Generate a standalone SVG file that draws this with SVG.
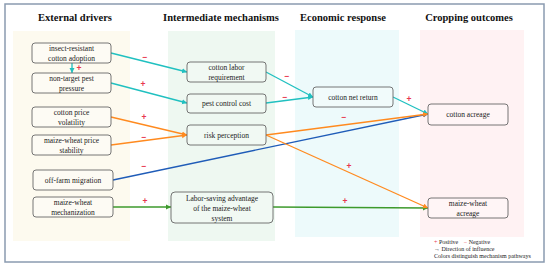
<svg xmlns="http://www.w3.org/2000/svg" width="550" height="266" viewBox="0 0 550 266">
<style>
.title{font-family:"Liberation Serif",serif;font-weight:bold;font-size:10.5px;fill:#111;text-anchor:middle}
.nt{font-family:"Liberation Serif",serif;font-size:7.5px;fill:#222;text-anchor:middle}
.box{stroke:#666;stroke-width:0.9}
.sg{font-family:"Liberation Sans",sans-serif;font-size:8.5px;font-weight:bold;fill:#e8384f;text-anchor:middle}
.lg{font-family:"Liberation Serif",serif;font-size:6px;fill:#222}
.teal{stroke:#20c0c0;stroke-width:1.3;fill:none}
.orange{stroke:#ff8a1f;stroke-width:1.3;fill:none}
.blue{stroke:#1f5cb8;stroke-width:1.3;fill:none}
.green{stroke:#3d9a2c;stroke-width:1.3;fill:none}
</style>
<defs>
<marker id="aT" markerWidth="6" markerHeight="6" refX="5" refY="3" orient="auto" markerUnits="userSpaceOnUse"><path d="M0,0.5 L5,3 L0,5.5 Z" fill="#20c0c0"/></marker>
<marker id="aO" markerWidth="6" markerHeight="6" refX="5" refY="3" orient="auto" markerUnits="userSpaceOnUse"><path d="M0,0.5 L5,3 L0,5.5 Z" fill="#ff8a1f"/></marker>
<marker id="aB" markerWidth="6" markerHeight="6" refX="5" refY="3" orient="auto" markerUnits="userSpaceOnUse"><path d="M0,0.5 L5,3 L0,5.5 Z" fill="#1f5cb8"/></marker>
<marker id="aG" markerWidth="6" markerHeight="6" refX="5" refY="3" orient="auto" markerUnits="userSpaceOnUse"><path d="M0,0.5 L5,3 L0,5.5 Z" fill="#3d9a2c"/></marker>
</defs>
<rect x="0" y="0" width="550" height="266" fill="#fff"/>
<rect x="5" y="4" width="539" height="258" fill="#fff" stroke="#8a9bb0" stroke-width="1.5"/>
<g id="panels">
<rect x="13" y="31" width="117" height="210" fill="#fdfaef"/>
<rect x="168" y="31" width="107" height="210" fill="#eef8f1"/>
<rect x="295" y="30" width="104" height="207" fill="#edfafb"/>
<rect x="420" y="30" width="104" height="207" fill="#fff2f3"/>
</g>
<g id="titles">
<text class="title" x="75" y="21">External drivers</text>
<text class="title" x="221" y="21">Intermediate mechanisms</text>
<text class="title" x="343" y="21">Economic response</text>
<text class="title" x="469" y="21">Cropping outcomes</text>
</g>
<g id="connectors">
<line class="teal" x1="111" y1="53" x2="187" y2="72" marker-end="url(#aT)"/>
<line class="teal" x1="72" y1="63" x2="72" y2="73" marker-end="url(#aT)"/>
<line class="teal" x1="111" y1="83" x2="187" y2="103" marker-end="url(#aT)"/>
<line class="orange" x1="111" y1="117" x2="187" y2="135" marker-end="url(#aO)"/>
<line class="orange" x1="111" y1="145" x2="187" y2="135" marker-end="url(#aO)"/>
<line class="blue" x1="113" y1="180" x2="428" y2="114" marker-end="url(#aB)"/>
<line class="green" x1="113" y1="207" x2="171" y2="207" marker-end="url(#aG)"/>
<line class="green" x1="273" y1="207" x2="428" y2="208" marker-end="url(#aG)"/>
<line class="teal" x1="266" y1="72" x2="313" y2="97" marker-end="url(#aT)"/>
<line class="teal" x1="266" y1="103" x2="313" y2="97" marker-end="url(#aT)"/>
<line class="teal" x1="393" y1="97" x2="428" y2="114" marker-end="url(#aT)"/>
<line class="orange" x1="266" y1="135" x2="428" y2="114" marker-end="url(#aO)"/>
<line class="orange" x1="266" y1="135" x2="428" y2="208" marker-end="url(#aO)"/>
</g>
<g id="signs">
<text class="sg" x="145" y="60">−</text>
<text class="sg" x="79" y="71">+</text>
<text class="sg" x="143" y="87">+</text>
<text class="sg" x="144" y="120">+</text>
<text class="sg" x="144" y="140">−</text>
<text class="sg" x="144" y="169">−</text>
<text class="sg" x="145" y="204">+</text>
<text class="sg" x="345" y="204">+</text>
<text class="sg" x="287" y="79">−</text>
<text class="sg" x="285" y="100">−</text>
<text class="sg" x="409" y="102">+</text>
<text class="sg" x="344" y="120">−</text>
<text class="sg" x="349" y="169">+</text>
</g>
<g id="n1"><rect class="box" x="32" y="43" width="79" height="20" rx="3" fill="#fdfbf4"/><text class="nt" x="71.5" y="50.5">insect-resistant</text><text class="nt" x="71.5" y="60.5">cotton adoption</text></g>
<g id="n2"><rect class="box" x="32" y="73" width="79" height="20" rx="3" fill="#fdfbf4"/><text class="nt" x="71.5" y="80.5">non-target pest</text><text class="nt" x="71.5" y="90.5">pressure</text></g>
<g id="n3"><rect class="box" x="32" y="107" width="79" height="20" rx="3" fill="#fdfbf4"/><text class="nt" x="71.5" y="114.5">cotton price</text><text class="nt" x="71.5" y="124.5">volatility</text></g>
<g id="n4"><rect class="box" x="32" y="135" width="79" height="20" rx="3" fill="#fdfbf4"/><text class="nt" x="71.5" y="142.5">maize-wheat price</text><text class="nt" x="71.5" y="152.5">stability</text></g>
<g id="n5"><rect class="box" x="33" y="170" width="80" height="20" rx="3" fill="#fdfbf4"/><text class="nt" x="73" y="182.5">off-farm migration</text></g>
<g id="n6"><rect class="box" x="33" y="197" width="80" height="20" rx="3" fill="#fdfbf4"/><text class="nt" x="73" y="204.5">maize-wheat</text><text class="nt" x="73" y="214.5">mechanization</text></g>
<g id="n7"><rect class="box" x="187" y="62" width="79" height="20" rx="3" fill="#f1f9f3"/><text class="nt" x="226.5" y="69.5">cotton labor</text><text class="nt" x="226.5" y="79.5">requirement</text></g>
<g id="n8"><rect class="box" x="187" y="94" width="79" height="19" rx="3" fill="#f1f9f3"/><text class="nt" x="226.5" y="106">pest control cost</text></g>
<g id="n9"><rect class="box" x="187" y="125" width="79" height="20" rx="3" fill="#f1f9f3"/><text class="nt" x="226.5" y="137.5">risk perception</text></g>
<g id="n10"><rect class="box" x="171" y="192" width="102" height="31" rx="4" fill="#f1f9f3"/><text class="nt" x="222" y="200.5">Labor-saving advantage</text><text class="nt" x="222" y="210.5">of the maize-wheat</text><text class="nt" x="222" y="220.5">system</text></g>
<g id="n11"><rect class="box" x="313" y="87" width="80" height="20" rx="3" fill="#f1fbfb"/><text class="nt" x="353" y="99.5">cotton net return</text></g>
<g id="n12"><rect class="box" x="428" y="104" width="80" height="21" rx="3" fill="#fff5f6"/><text class="nt" x="468" y="117">cotton acreage</text></g>
<g id="n13"><rect class="box" x="428" y="198" width="80" height="20" rx="3" fill="#fff5f6"/><text class="nt" x="468" y="205.5">maize-wheat</text><text class="nt" x="468" y="215.5">acreage</text></g>
<g id="legend">
<text class="lg" x="434" y="244"><tspan fill="#e8384f">+</tspan> Positive <tspan dx="4" fill="#e8384f">−</tspan> Negative</text>
<text class="lg" x="434" y="251">→ Direction of influence</text>
<text class="lg" x="434" y="258">Colors distinguish mechanism pathways</text>
</g>
</svg>
